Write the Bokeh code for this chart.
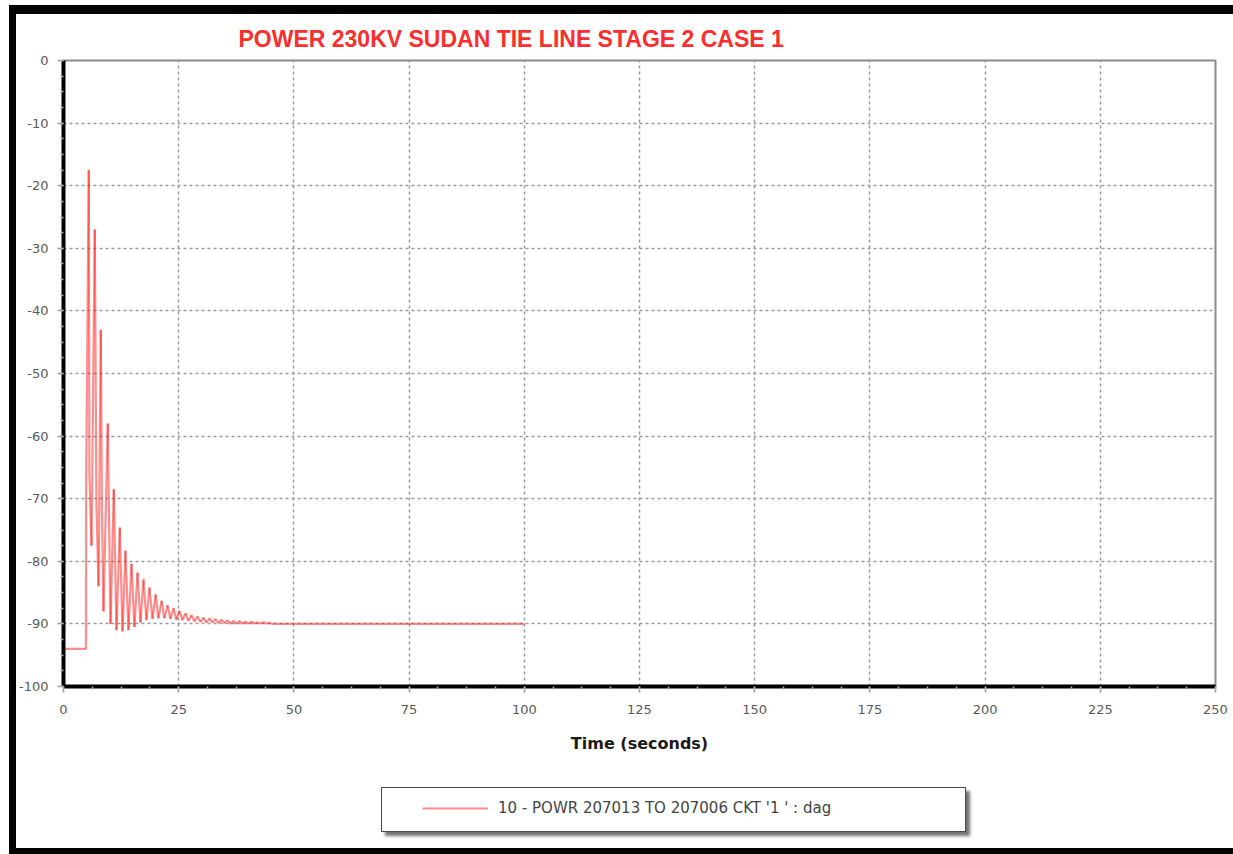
import numpy as np
from bokeh.plotting import figure
from bokeh.layouts import column
from bokeh.models import (Range1d, FixedTicker, Legend, LegendItem,
                          ColumnDataSource, InlineStyleSheet)
from bokeh.embed import file_html
from bokeh.resources import INLINE

# ---- text -------------------------------------------------------------
chart_title = "POWER 230KV SUDAN TIE LINE STAGE 2 CASE 1"
x_axis_title = "Time (seconds)"
series_name = "10 - POWR 207013 TO 207006 CKT '1 ' : dag"

# ---- axis ticks -------------------------------------------------------
x_ticks = [0, 25, 50, 75, 100, 125, 150, 175, 200, 225, 250]
y_ticks = [0, -10, -20, -30, -40, -50, -60, -70, -80, -90, -100]

# ---- simulated branch power (MW) versus time (s) ----------------------
time_s = [0, 4.88, 4.92, 5.49, 5.62, 6.08, 6.79, 7.15, 7.60, 8.09,
          8.35, 8.68, 9.61, 10.2, 10.92, 11.5, 12.22, 12.8, 13.45, 14.1,
          14.76, 15.4, 16.06, 16.7, 17.36, 18.0, 18.66, 19.3, 20.0, 20.6,
          21.3, 21.9, 22.6, 23.2, 23.9, 24.5, 25.2, 25.8, 26.5, 27.1,
          27.8, 28.4, 29.1, 29.7, 30.4, 31.0, 31.7, 32.3, 33.0, 33.6,
          34.3, 34.9, 35.6, 36.2, 36.9, 37.5, 38.2, 38.8, 39.5, 40.1,
          40.8, 41.4, 42.1, 42.7, 43.4, 44.0, 44.7, 45.3, 100.0]
power = [-94, -94, -67, -17.5, -66, -77.5, -27, -71, -84, -43,
         -72, -88, -58, -90, -68.5, -91, -74.6, -91.2, -78.3, -91,
         -80.4, -90.5, -81.8, -89.8, -82.9, -89.4, -84.2, -89.2, -85.3, -89.1,
         -86.3, -89.1, -87.0, -89.2, -87.5, -89.3, -87.9, -89.4, -88.3, -89.5,
         -88.6, -89.6, -88.8, -89.7, -89.0, -89.8, -89.1, -89.8, -89.2, -89.9,
         -89.3, -89.9, -89.4, -90.0, -89.5, -90.0, -89.5, -90.0, -89.6, -90.0,
         -89.6, -90.0, -89.7, -90.0, -89.7, -90.0, -89.8, -90.0, -90.0]

# ---- page geometry (pixels) -------------------------------------------
W, H = 1233, 854
LEGEND_STRIP = 84                      # height of the strip holding the legend
PLOT_H = H - LEGEND_STRIP
FRAME_L, FRAME_R, FRAME_T, FRAME_B = 63, 1215, 60, 686

p = figure(width=W, height=PLOT_H, output_backend="svg", toolbar_location=None,
           x_range=Range1d(x_ticks[0], x_ticks[-1]),
           y_range=Range1d(y_ticks[-1], y_ticks[0]),
           min_border_left=FRAME_L, min_border_right=W - FRAME_R,
           min_border_top=FRAME_T, min_border_bottom=PLOT_H - FRAME_B)
p.background_fill_color = "white"
p.border_fill_color = "white"
p.outline_line_color = "#8c8c8c"
p.outline_line_width = 2

# ---- title ------------------------------------------------------------
p.title.text = chart_title
p.title.align = "left"
p.title.offset = 238 - FRAME_L
p.title.standoff = 18
p.title.text_font = "Liberation Sans"
p.title.text_font_style = "bold"
p.title.text_font_size = "23px"
p.title.text_color = "#ff2e2e"

# ---- axes -------------------------------------------------------------
p.xaxis.ticker = FixedTicker(
    ticks=x_ticks, minor_ticks=list(np.arange(x_ticks[0], x_ticks[-1] + 0.01, 6.25)))
p.yaxis.ticker = FixedTicker(
    ticks=y_ticks, minor_ticks=list(np.arange(y_ticks[-1], y_ticks[0] + 0.01, 2.5)))
p.yaxis.major_label_overrides = {v: str(v) for v in y_ticks}
for ax in (p.xaxis[0], p.yaxis[0]):
    ax.axis_line_color = "black"
    ax.axis_line_width = 4
    ax.major_tick_line_color = "#9a9a9a"
    ax.major_tick_line_width = 1.5
    ax.major_tick_out = 6
    ax.major_tick_in = 0
    ax.minor_tick_line_color = "#b0b0b0"
    ax.minor_tick_line_width = 1.5
    ax.minor_tick_out = 3
    ax.minor_tick_in = 0
    ax.major_label_text_font = "DejaVu Sans"
    ax.major_label_text_font_size = "13px"
    ax.major_label_text_color = "#5a5a5a"
p.xaxis.major_label_standoff = 12
p.yaxis.major_label_standoff = 9

p.xaxis.axis_label = x_axis_title
p.xaxis.axis_label_text_font = "DejaVu Sans"
p.xaxis.axis_label_text_font_style = "bold"
p.xaxis.axis_label_text_font_size = "16px"
p.xaxis.axis_label_text_color = "#1a1a1a"
p.xaxis.axis_label_standoff = 17

# ---- grid -------------------------------------------------------------
for g in (p.xgrid[0], p.ygrid[0]):
    g.grid_line_color = "#9a9a9a"
    g.grid_line_width = 1.5
    g.grid_line_dash = "3 3"

# ---- trace (separate segments so overlapping strokes deepen the red) --
src = ColumnDataSource(dict(x0=time_s[:-1], y0=power[:-1],
                            x1=time_s[1:], y1=power[1:]))
trace_style = dict(line_color="#ff2020", line_alpha=0.5, line_width=2.2)
trace = p.segment(x0="x0", y0="y0", x1="x1", y1="y1", source=src, **trace_style)

# ---- legend strip below the chart --------------------------------------
q = figure(width=W, height=LEGEND_STRIP, output_backend="svg",
           toolbar_location=None, title=None,
           x_axis_location=None, y_axis_location=None,
           x_range=Range1d(0, 1), y_range=Range1d(0, 1),
           min_border=0)
q.background_fill_alpha = 0
q.border_fill_alpha = 0
q.outline_line_color = None
for g in q.grid:
    g.visible = False
# same series, same style: provides the legend swatch (falls outside q's view)
swatch = q.segment(x0="x0", y0="y0", x1="x1", y1="y1", source=src, **trace_style)
legend = Legend(items=[LegendItem(label=series_name, renderers=[swatch])],
                location=(359, 37), margin=0, padding=0, spacing=0,
                background_fill_alpha=0, border_line_alpha=0,
                glyph_width=66, glyph_height=16, label_height=16,
                label_standoff=10,
                label_text_font="DejaVu Sans", label_text_font_size="15px",
                label_text_color="#444444")
q.add_layout(legend)

page = column(p, q, spacing=0)

# ---- page frame and legend box ----------------------------------------
page.stylesheets.append(InlineStyleSheet(css="""
:host::before {
  content: ""; position: absolute; left: 9px; top: 5px;
  width: 1224px; height: 849px; box-sizing: border-box;
  border-left: 7px solid #000; border-top: 9px solid #000;
  border-bottom: 6px solid #000; pointer-events: none; z-index: 5;
}
:host::after {
  content: ""; position: absolute; left: 381px; top: 787px;
  width: 585px; height: 45px; box-sizing: border-box;
  background: #fff; border: 1.5px solid #4a4a4a;
  box-shadow: 4px 4px 3px rgba(0, 0, 0, 0.55); z-index: -1;
}
"""))

open("out.html", "w").write(file_html(page, INLINE))
